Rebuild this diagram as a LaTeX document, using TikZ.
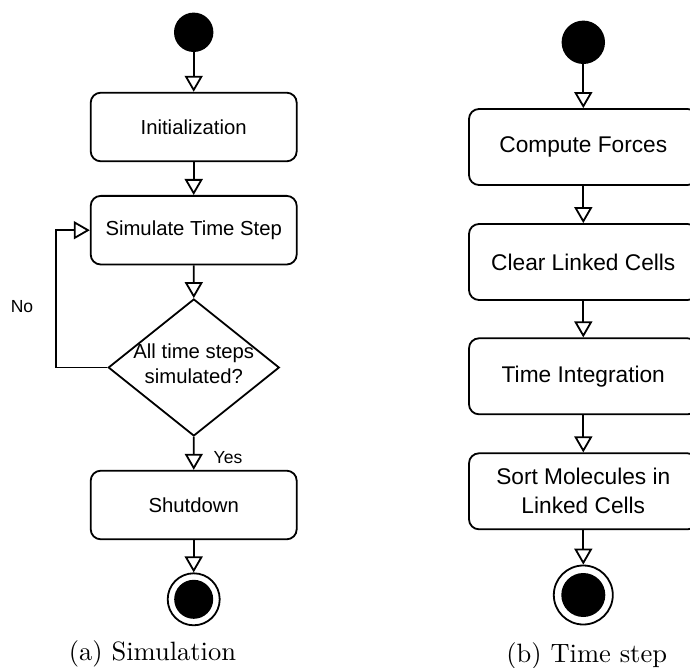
\documentclass[tikz,border=0pt]{standalone}
\usepackage{fontspec}
\newfontfamily\diagfont{Liberation Sans}
\usetikzlibrary{arrows.meta,shapes.geometric}

\begin{document}
\begin{tikzpicture}[x=1pt,y=-1pt,
  flow/.style={draw, line width=1.8pt, -{Triangle[open,length=16pt,width=18pt,line width=1.8pt]}},
  actA/.style={draw, line width=1.8pt, rounded corners=10pt, minimum width=206pt,
    minimum height=68.6pt, inner sep=0pt, align=center,
    font=\diagfont\fontsize{20.3}{25}\selectfont},
  actB/.style={draw, line width=1.8pt, rounded corners=10pt, minimum width=228.6pt,
    minimum height=76pt, inner sep=0pt, align=center,
    font=\diagfont\fontsize{22.7}{29}\selectfont},
  startdot/.style={circle, fill=black, inner sep=0pt, minimum size=#1},
  enddot/.style 2 args={circle, draw, line width=1.8pt, inner sep=0pt, minimum size=#1,
    path picture={\fill[black] (path picture bounding box.center) circle (#2);}},
  decision/.style={diamond, draw, line width=1.8pt, inner sep=0pt,
    minimum width=171pt, minimum height=137pt},
  guard/.style={font=\diagfont\fontsize{17.5}{21}\selectfont, inner sep=0pt},
  caption/.style={scale=2.65, inner sep=0pt}
]
\useasboundingbox (0,0) rectangle (690,668);
\clip (0,0) rectangle (690,668);

% ---- (a) Simulation ----
\node[startdot=39.4pt] (s0) at (193.7,32.3) {};
\node[actA] (init) at (193.7,127) {Initialization};
\node[actA] (sim) at (193.7,230.2) {Simulate Time Step};
\node[decision] (dec) at (193.8,367.5) {};
\node[align=center, inner sep=0pt, font=\diagfont\fontsize{20.3}{25}\selectfont] (dectext) at (193.8,364) {All time steps\\simulated?};
\node[actA] (shut) at (193.7,505) {Shutdown};
\node[enddot={52pt}{19.5pt}] (e0) at (193.7,599.3) {};

\draw[flow] (s0) -- (init);
\draw[flow] (init) -- (sim);
\draw[flow] (sim) -- (dec.north);
\draw[flow] (dec.south) -- (shut);
\draw[flow] (shut) -- (e0);
\coordinate (loopturn) at (56,367.5);
\draw[flow] (dec.west) -- (loopturn) |- (sim.west);

\node[guard] (no) at (22,306.7) {No};
\node[guard] (yes) at (228,457.7) {Yes};

\node[caption] (capa) at (152.5,654) {(a) Simulation};

% ---- (b) Time step ----
\node[startdot=43.4pt] (s1) at (583.3,42.3) {};
\node[actB] (cf) at (583.3,147) {Compute Forces};
\node[actB] (clc) at (583.3,262) {Clear Linked Cells};
\node[actB] (ti) at (583.3,376.3) {Time Integration};
\node[actB] (sm) at (583.3,491.3) {Sort Molecules in\\Linked Cells};
\node[enddot={59pt}{22pt}] (e1) at (583.3,595) {};

\draw[flow] (s1) -- (cf);
\draw[flow] (cf) -- (clc);
\draw[flow] (clc) -- (ti);
\draw[flow] (ti) -- (sm);
\draw[flow] (sm) -- (e1);

\node[caption] (capb) at (586.7,655.5) {(b) Time step};
\end{tikzpicture}
\end{document}
